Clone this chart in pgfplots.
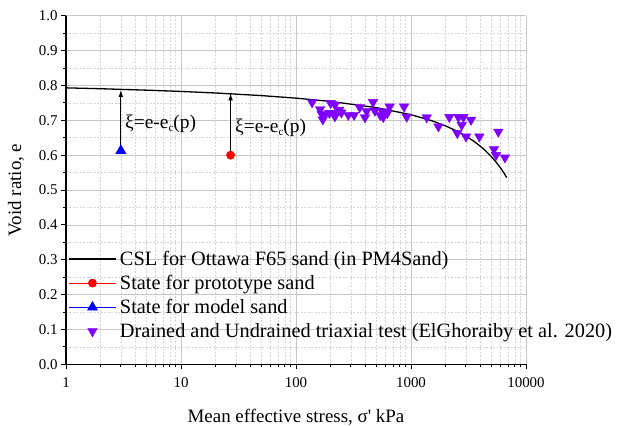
\documentclass[border=0pt]{standalone}
\usepackage{fontspec}
\setmainfont{Liberation Serif}
\usepackage{pgfplots}
\pgfplotsset{compat=1.18}
\usetikzlibrary{arrows.meta}
\definecolor{violetm}{RGB}{128,0,255}
\begin{document}
\begin{tikzpicture}
\begin{axis}[
 scale only axis, width=460bp, height=348.6bp,
 xmode=log, xmin=1, xmax=10000, ymin=0, ymax=1,
 log ticks with fixed point,
 /pgf/number format/1000 sep={},
 /pgf/number format/assume math mode=true,
 ytick={0,0.1,0.2,0.3,0.4,0.5,0.6,0.7,0.8,0.9,1.0},
 minor ytick={0.05,0.15,0.25,0.35,0.45,0.55,0.65,0.75,0.85,0.95},
 yticklabel style={/pgf/number format/.cd,fixed,fixed zerofill,precision=1,assume math mode=true},
 xticklabel style={yshift=-5bp},
 axis x line*=bottom, axis y line*=left,
 tick align=outside,
 major tick length=5bp, minor tick length=3bp,
 every tick/.style={black, line width=0.8pt},
 axis line style={line width=1.2pt},
 grid=both,
 major grid style={gray!45, line width=0.6pt},
 minor grid style={gray!32, dash pattern=on 2bp off 1.5bp, line width=0.5pt},
 tick label style={font=\fontsize{15}{18}\selectfont},
 xlabel={Mean effective stress, σ\textquotesingle{} kPa},
 ylabel={Void ratio, e},
 label style={font=\fontsize{19}{23}\selectfont},
 xlabel style={yshift=-14bp},
 ylabel style={yshift=8bp},
 legend cell align=left,
 legend style={at={(rel axis cs:0.003,0.330)}, anchor=north west, draw=none, fill=none,
   font=\fontsize{20.4}{25}\selectfont, inner xsep=1pt, inner ysep=0pt, row sep=5.4bp,
   nodes={inner xsep=3.6bp, inner ysep=1.5bp}},
 legend image code/.code={\draw[mark repeat=2,mark phase=2,#1] plot coordinates {(0cm,0cm) (0.82cm,0cm) (1.64cm,0cm)};},
]
\draw[-{Latex[length=7bp,width=4.5bp]}, line width=0.8pt] (axis cs:3,0.615) -- (axis cs:3,0.787);
\draw[-{Latex[length=7bp,width=4.5bp]}, line width=0.8pt] (axis cs:27,0.600) -- (axis cs:27,0.777);
\node[anchor=west, inner sep=0pt, font=\fontsize{19.5}{23}\selectfont] at (axis cs:3.26,0.689) {ξ=e-e\raisebox{-0.35ex}{\fontsize{11}{13}\selectfont c}(p)};
\node[anchor=west, inner sep=0pt, font=\fontsize{19.5}{23}\selectfont] at (axis cs:29.5,0.678) {ξ=e-e\raisebox{-0.35ex}{\fontsize{11}{13}\selectfont c}(p)};

\addplot[black, line width=1.3bp, mark=none] coordinates {
(1,0.7930) (2,0.7905) (5,0.7864) (10,0.7827) (20,0.7783) (50,0.7708) (100,0.7635)
(200,0.7541) (500,0.7363) (1000,0.7160) (1500,0.6992) (2000,0.6838) (2500,0.6692)
(3000,0.6548) (3500,0.6404) (4000,0.6258) (4500,0.6110) (5000,0.5957) (5500,0.5799)
(6000,0.5635) (6400,0.5498) (6800,0.5357)
};
\addlegendentry{CSL for Ottawa F65 sand (in PM4Sand)}

\addplot[red, line width=0.8pt, mark=*, mark size=4bp, mark options={solid, fill=red}] coordinates {(27,0.600)};
\addlegendentry{State for prototype sand}

\addplot[blue, line width=0.8pt, mark=triangle*, mark size=5.5bp, mark options={solid, fill=blue}] coordinates {(3,0.613)};
\addlegendentry{State for model sand}

\addplot[only marks, violetm, mark=triangle*, mark size=5.5bp, mark options={rotate=180, fill=violetm, draw=violetm}] coordinates {
(138,0.751) (162,0.731) (171,0.702) (167,0.718) (175,0.712) (195,0.721) (200,0.749)
(211,0.720) (218,0.744) (218,0.711) (238,0.730) (248,0.722) (285,0.715) (320,0.715)
(358,0.737) (398,0.708) (411,0.726) (467,0.752) (486,0.727) (540,0.715) (565,0.725)
(574,0.709) (622,0.720) (652,0.739) (870,0.739) (918,0.710) (1370,0.708) (1730,0.682)
(2154,0.709) (2583,0.709) (2855,0.709) (2760,0.686) (3326,0.701) (2528,0.663)
(3009,0.653) (3929,0.653) (5740,0.667) (5270,0.617) (5486,0.600) (6561,0.593)
};
\addlegendentry{Drained and Undrained triaxial test (ElGhoraiby et al. 2020)}
\end{axis}
\pgfresetboundingbox
\path (current axis.south west) ++(-66bp,-61.7bp) rectangle ++(622bp,426bp);
\end{tikzpicture}
\end{document}
